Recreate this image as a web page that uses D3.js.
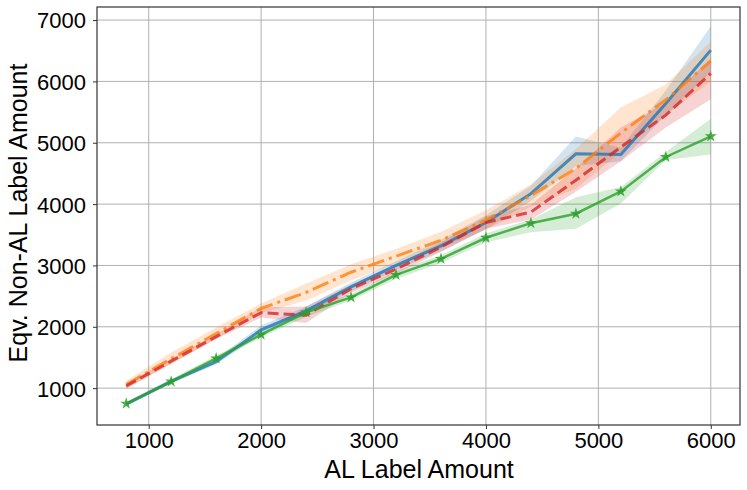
<!DOCTYPE html>
<html>
<head>
<meta charset="utf-8">
<script src="https://cdn.jsdelivr.net/npm/d3@7"></script>
<style>
  body { margin: 0; background: #fff; }
  text { font-family: "Liberation Sans", Arial, sans-serif; }
</style>
</head>
<body>
<div id="chart"></div>
<script>
// AL label amounts on the x axis
const alAmount = [800, 1200, 1600, 2000, 2400, 2800, 3200, 3600, 4000, 4400, 4800, 5200, 5600, 6000];

// series: mean and band (lower / upper)
const blueMean = [740, 1110, 1430, 1950, 2260, 2650, 3000, 3320, 3700, 4170, 4820, 4810, 5640, 6510];
const blueLo   = [712, 1080, 1385, 1885, 2200, 2580, 2930, 3230, 3590, 4050, 4620, 4700, 5450, 6150];
const blueHi   = [770, 1140, 1480, 2020, 2330, 2720, 3070, 3420, 3820, 4300, 5100, 4920, 5850, 6900];

const orangeMean = [1060, 1480, 1890, 2300, 2560, 2890, 3150, 3410, 3740, 4140, 4580, 5160, 5700, 6330];
const orangeLo   = [1000, 1390, 1800, 2220, 2430, 2760, 3030, 3280, 3580, 3960, 4250, 4850, 5450, 6000];
const orangeHi   = [1120, 1580, 1990, 2380, 2700, 3020, 3270, 3550, 3900, 4320, 4900, 5580, 5950, 6650];

const redMean = [1035, 1440, 1840, 2230, 2190, 2620, 2940, 3300, 3700, 3870, 4390, 4930, 5450, 6130];
const redLo   = [990, 1400, 1800, 2150, 2060, 2550, 2870, 3220, 3600, 3750, 4200, 4700, 5250, 5710];
const redHi   = [1080, 1480, 1880, 2320, 2330, 2690, 3010, 3380, 3800, 3990, 4580, 5250, 5650, 6380];

const greenMean = [748, 1108, 1484, 1871, 2235, 2480, 2846, 3107, 3451, 3689, 3843, 4207, 4768, 5105];
const greenLo   = [720, 1070, 1440, 1830, 2160, 2430, 2780, 3040, 3380, 3540, 3600, 4010, 4720, 4810];
const greenHi   = [775, 1150, 1530, 1910, 2310, 2530, 2910, 3170, 3520, 3750, 4110, 4280, 4850, 5390];

const xTicks = [1000, 2000, 3000, 4000, 5000, 6000];
const yTicks = [1000, 2000, 3000, 4000, 5000, 6000, 7000];

const margin = { top: 7, right: 7, bottom: 65, left: 97 },
  width = 747 - margin.left - margin.right,
  height = 490 - margin.top - margin.bottom;

const svg = d3.select("#chart")
  .append("svg")
  .attr("width", 747)
  .attr("height", 490)
  .append("g")
  .attr("transform", `translate(${margin.left},${margin.top})`);

const x = d3.scaleLinear().domain([540, 6260]).range([0, width]);
const y = d3.scaleLinear().domain([399, 7213]).range([height, 0]);

// grid
svg.append("g").selectAll("line").data(xTicks).join("line")
  .attr("x1", d => x(d)).attr("x2", d => x(d))
  .attr("y1", 0).attr("y2", height)
  .attr("stroke", "#b0b0b0").attr("stroke-width", 1);
svg.append("g").selectAll("line").data(yTicks).join("line")
  .attr("x1", 0).attr("x2", width)
  .attr("y1", d => y(d)).attr("y2", d => y(d))
  .attr("stroke", "#b0b0b0").attr("stroke-width", 1);

const series = [
  { mean: blueMean, lo: blueLo, hi: blueHi, color: "#1f77b4", dash: null },
  { mean: orangeMean, lo: orangeLo, hi: orangeHi, color: "#ff7f0e", dash: "17,5,3,5" },
  { mean: redMean, lo: redLo, hi: redHi, color: "#d62728", dash: "11,5" },
  { mean: greenMean, lo: greenLo, hi: greenHi, color: "#2ca02c", dash: null, star: true }
];

const area = d3.area()
  .x((d, i) => x(alAmount[i]))
  .y0(d => y(d[0]))
  .y1(d => y(d[1]));

const line = d3.line()
  .x((d, i) => x(alAmount[i]))
  .y(d => y(d));

// bands first
series.forEach(s => {
  svg.append("path")
    .datum(s.lo.map((v, i) => [v, s.hi[i]]))
    .attr("fill", s.color)
    .attr("fill-opacity", 0.2)
    .attr("d", area);
});

series.forEach(s => {
  svg.append("path")
    .datum(s.mean)
    .attr("fill", "none")
    .attr("stroke", s.color)
    .attr("stroke-opacity", 0.8)
    .attr("stroke-width", s.star ? 2.5 : 3)
    .attr("stroke-dasharray", s.dash)
    .attr("d", line);
  if (s.star) {
    svg.append("g").selectAll("path").data(s.mean).join("path")
      .attr("transform", (d, i) => `translate(${x(alAmount[i])},${y(d)})`)
      .attr("d", d3.symbol(d3.symbolStar, 45))
      .attr("fill", s.color)
      .attr("fill-opacity", 0.85);
  }
});

// frame
svg.append("rect")
  .attr("width", width).attr("height", height)
  .attr("fill", "none").attr("stroke", "#333").attr("stroke-width", 1.2);

// axes
const xAxis = svg.append("g")
  .attr("transform", `translate(0,${height})`)
  .call(d3.axisBottom(x).tickValues(xTicks).tickSize(4).tickPadding(3).tickFormat(d3.format("d")));
const yAxis = svg.append("g")
  .call(d3.axisLeft(y).tickValues(yTicks).tickSize(4).tickPadding(7).tickFormat(d3.format("d")));
[xAxis, yAxis].forEach(a => {
  a.select(".domain").remove();
  a.selectAll(".tick line").attr("stroke", "#333");
  a.selectAll(".tick text").attr("fill", "#000")
    .style("font-family", "'Liberation Sans', Arial, sans-serif")
    .style("font-size", "22px");
});
yAxis.selectAll(".tick text").attr("dy", "0.36em");

svg.append("text")
  .attr("x", 322).attr("y", height + 53)
  .attr("text-anchor", "middle")
  .style("font-size", "25px")
  .text("AL Label Amount");

svg.append("text")
  .attr("transform", `translate(${-70},${206}) rotate(-90)`)
  .attr("text-anchor", "middle")
  .style("font-size", "25px")
  .text("Eqv. Non-AL Label Amount");
</script>
</body>
</html>
